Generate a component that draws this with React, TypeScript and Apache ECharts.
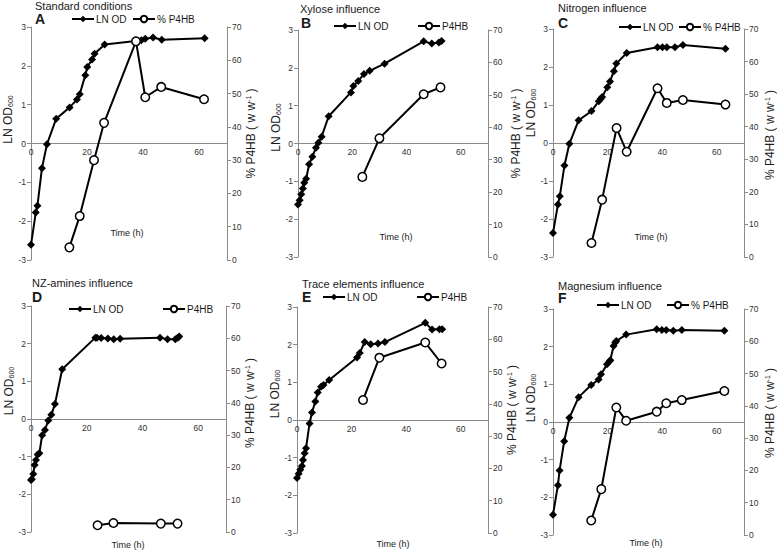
import React, { useEffect, useRef } from "react";
import * as echarts from "echarts";

// ---------- data ----------
const odTimeA = [0, 1.7, 2.3, 3.9, 5.7, 9.0, 13.8, 16.4, 17.4, 19.4, 20.1, 21.8, 22.7, 26.3, 37.4, 39.4, 40.8, 43.6, 46.7, 62.0];
const odA = [-2.61, -1.78, -1.6, -0.64, -0.02, 0.64, 0.93, 1.13, 1.27, 1.76, 1.97, 2.16, 2.31, 2.55, 2.64, 2.66, 2.7, 2.73, 2.67, 2.71];
const pTimeA = [13.7, 17.4, 22.5, 26.1, 37.5, 40.8, 46.5, 61.8];
const pA = [3.8, 13.2, 30.0, 41.2, 65.7, 48.9, 52.0, 48.3];

const odTimeB = [0, 0.6, 1.2, 1.8, 2.3, 3.0, 4.1, 5.3, 6.6, 7.5, 8.7, 11.3, 19.5, 20.4, 22.2, 24.3, 26.4, 31.9, 46.3, 49.3, 51.9, 52.9];
const odB = [-1.61, -1.5, -1.34, -1.19, -1.04, -0.93, -0.55, -0.35, -0.11, 0.02, 0.18, 0.72, 1.35, 1.52, 1.65, 1.84, 1.92, 2.11, 2.7, 2.64, 2.67, 2.71];
const pTimeB = [23.7, 30.0, 46.3, 52.5];
const pB = [24.7, 36.6, 50.2, 52.3];

const odTimeC = [0, 1.8, 2.5, 4.2, 6.0, 9.4, 14.1, 16.8, 17.4, 18.0, 19.9, 20.9, 22.3, 23.2, 27.0, 38.3, 40.1, 41.7, 44.7, 47.6, 63.2];
const odC = [-2.37, -1.62, -1.4, -0.59, -0.02, 0.6, 0.84, 1.1, 1.16, 1.21, 1.47, 1.62, 1.89, 2.09, 2.37, 2.52, 2.52, 2.52, 2.52, 2.58, 2.48];
const pTimeC = [14.1, 18.0, 23.3, 27.0, 38.3, 41.7, 47.6, 63.2];
const pC = [4.3, 17.6, 39.6, 32.3, 51.8, 47.3, 48.2, 46.8];

const odTimeD = [0, 0.3, 0.8, 1.3, 1.8, 2.4, 3.0, 4.0, 5.0, 6.2, 7.3, 8.6, 11.2, 23.1, 23.7, 25.2, 27.6, 29.7, 32.0, 46.3, 49.0, 51.8, 52.7, 53.2];
const odD = [-1.62, -1.6, -1.46, -1.22, -1.09, -0.94, -0.91, -0.43, -0.29, -0.04, 0.11, 0.4, 1.32, 2.16, 2.16, 2.15, 2.14, 2.12, 2.13, 2.16, 2.12, 2.12, 2.16, 2.19];
const pTimeD = [23.9, 29.6, 46.6, 52.6];
const pD = [2.1, 2.8, 2.6, 2.6];

const odTimeE = [0, 0.6, 1.2, 1.8, 2.2, 2.8, 3.3, 4.6, 5.5, 6.7, 7.6, 8.8, 9.7, 11.8, 22.0, 23.0, 24.8, 27.0, 29.7, 32.2, 47.0, 49.5, 52.2, 53.2];
const odE = [-1.54, -1.43, -1.32, -1.22, -1.06, -0.88, -0.75, -0.09, 0.2, 0.49, 0.73, 0.88, 0.93, 1.06, 1.66, 1.78, 2.07, 2.01, 2.03, 2.07, 2.58, 2.4, 2.41, 2.41];
const pTimeE = [24.2, 30.2, 47.0, 53.0];
const pE = [41.2, 54.3, 59.0, 52.5];

const odTimeF = [0, 1.8, 2.4, 4.1, 6.0, 9.4, 14.0, 16.7, 17.6, 19.8, 20.7, 21.0, 22.2, 22.8, 23.2, 26.8, 38.0, 39.9, 41.5, 44.1, 47.2, 62.8];
const odF = [-2.46, -1.68, -1.29, -0.51, 0.11, 0.66, 0.98, 1.13, 1.27, 1.53, 1.61, 1.64, 2.02, 2.11, 2.15, 2.32, 2.46, 2.44, 2.44, 2.42, 2.44, 2.42];
const pTimeF = [14.0, 17.7, 23.2, 26.8, 38.0, 41.5, 47.2, 62.8];
const pF = [4.5, 14.2, 39.5, 35.4, 38.2, 40.8, 41.8, 44.6];

const xTicks = { min: 0, max: 70, interval: 20 };
const odTicks = { min: -3, max: 3, interval: 1 };
const pTicks = { min: 0, max: 70, interval: 10 };

// ---------- layout ----------
const panels = [
  { id: "A", title: "Standard conditions", pName: "% P4HB", odT: odTimeA, od: odA, pT: pTimeA, p: pA,
    grid: { left: 31, top: 27, width: 196, height: 233 }, titleXY: [35, 0], letterXY: [35, 12],
    legOd: [71, 14], legP: [132, 14], timeXY: [127, 233], lGap: 17, lShift: 24, rGap: 18, rShift: 10 },
  { id: "B", title: "Xylose influence", pName: "P4HB", odT: odTimeB, od: odB, pT: pTimeB, p: pB,
    grid: { left: 298, top: 30, width: 190, height: 227 }, titleXY: [300, 3], letterXY: [301, 16],
    legOd: [333, 21], legP: [417, 21], timeXY: [396, 237], lGap: 15, lShift: 16, rGap: 22, rShift: 10 },
  { id: "C", title: "Nitrogen influence", pName: "% P4HB", odT: odTimeC, od: odC, pT: pTimeC, p: pC,
    grid: { left: 553, top: 29, width: 192, height: 228 }, titleXY: [558, 2], letterXY: [558, 16],
    legOd: [618, 22], legP: [678, 22], timeXY: [651, 237], lGap: 6, lShift: 30, rGap: 20, rShift: 8 },
  { id: "D", title: "NZ-amines influence", pName: "P4HB", odT: odTimeD, od: odD, pT: pTimeD, p: pD,
    grid: { left: 31, top: 306, width: 195, height: 226 }, titleXY: [32, 277], letterXY: [32, 290],
    legOd: [68, 304], legP: [162, 304], timeXY: [128, 545], lGap: 16, lShift: 28, rGap: 18, rShift: 16 },
  { id: "E", title: "Trace elements influence", pName: "P4HB", odT: odTimeE, od: odE, pT: pTimeE, p: pE,
    grid: { left: 297, top: 307, width: 191, height: 226 }, titleXY: [302, 278], letterXY: [302, 290],
    legOd: [322, 292], legP: [416, 292], timeXY: [393, 544], lGap: 9, lShift: 26, rGap: 18, rShift: 10 },
  { id: "F", title: "Magnesium influence", pName: "% P4HB", odT: odTimeF, od: odF, pT: pTimeF, p: pF,
    grid: { left: 553, top: 309, width: 192, height: 226 }, titleXY: [558, 280], letterXY: [558, 291],
    legOd: [596, 300], legP: [666, 300], timeXY: [646, 543], lGap: 6, lShift: 24, rGap: 20, rShift: 9 },
];

const FONT = "'Liberation Sans', Arial, Helvetica, sans-serif";
const AXIS = "#8a8a8a";
const TXT = "#1a1a1a";

const zip = (t: number[], v: number[]) => t.map((x, i) => [x, v[i]]);

function buildOption() {
  const legendCommon = {
    padding: 0,
    itemWidth: 22,
    itemHeight: 8,
    itemGap: 0,
    selectedMode: false,
    textStyle: { fontSize: 10, color: TXT, fontFamily: FONT, padding: [0, 0, 0, -3] },
  };
  const yLabel = { fontSize: 8.5, color: "#333", fontFamily: FONT, margin: 5 };
  return {
    animation: false,
    backgroundColor: "#fff",
    textStyle: { fontFamily: FONT },
    title: panels.flatMap((p) => [
      { text: p.title, left: p.titleXY[0], top: p.titleXY[1], padding: 0,
        textStyle: { fontSize: 11, fontWeight: "normal", color: TXT, fontFamily: FONT } },
      { text: p.id, left: p.letterXY[0], top: p.letterXY[1], padding: 0,
        textStyle: { fontSize: 14, fontWeight: "bold", color: TXT, fontFamily: FONT } },
    ]),
    legend: panels.flatMap((p) => [
      { ...legendCommon, data: ["LN OD"], left: p.legOd[0], top: p.legOd[1] },
      { ...legendCommon, data: [p.pName], left: p.legP[0], top: p.legP[1] },
    ]),
    grid: panels.map((p) => ({ ...p.grid, containLabel: false })),
    xAxis: panels.map((p, i) => ({
      type: "value",
      gridIndex: i,
      ...xTicks,
      position: "bottom",
      // LN OD axis is symmetric (-3..3), so its zero sits at the grid's middle
      offset: -p.grid.height / 2,
      axisLine: { onZero: false, lineStyle: { color: AXIS, width: 1 } },
      axisTick: { show: false },
      splitLine: { show: false },
      axisLabel: { fontSize: 8.5, color: "#333", fontFamily: FONT, margin: 4, showMaxLabel: false },
    })),
    yAxis: panels.flatMap((p, i) => [
      {
        type: "value",
        gridIndex: i,
        position: "left",
        ...odTicks,
        name: "LN OD{sub|600}",
        nameLocation: "middle",
        nameGap: p.lGap,
        nameRotate: 90,
        nameTextStyle: {
          fontSize: 12, color: TXT, fontFamily: FONT, padding: [0, 0, 0, 2 * p.lShift],
          rich: { sub: { fontSize: 7, color: TXT, fontFamily: FONT, verticalAlign: "bottom" } },
        },
        axisLine: { show: true, onZero: false, lineStyle: { color: AXIS, width: 1 } },
        axisTick: { show: true, length: 4, lineStyle: { color: AXIS } },
        splitLine: { show: false },
        axisLabel: yLabel,
      },
      {
        type: "value",
        gridIndex: i,
        position: "right",
        ...pTicks,
        name: "% P4HB ( w w{sup|-1} )",
        nameLocation: "middle",
        nameGap: p.rGap,
        nameRotate: 90,
        nameTextStyle: {
          fontSize: 12, color: TXT, fontFamily: FONT, padding: [0, 0, 0, 2 * p.rShift],
          rich: { sup: { fontSize: 7, color: TXT, fontFamily: FONT, verticalAlign: "top" } },
        },
        axisLine: { show: true, onZero: false, lineStyle: { color: AXIS, width: 1 } },
        axisTick: { show: true, length: 4, lineStyle: { color: AXIS } },
        splitLine: { show: false },
        axisLabel: yLabel,
      },
    ]),
    series: panels.flatMap((p, i) => [
      {
        type: "line",
        name: "LN OD",
        xAxisIndex: i,
        yAxisIndex: 2 * i,
        data: zip(p.odT, p.od),
        symbol: "diamond",
        symbolSize: 8,
        itemStyle: { color: "#000" },
        lineStyle: { color: "#000", width: 2 },
        z: 2,
      },
      {
        type: "line",
        name: p.pName,
        xAxisIndex: i,
        yAxisIndex: 2 * i + 1,
        data: zip(p.pT, p.p),
        symbol: "circle",
        symbolSize: 8.5,
        itemStyle: { color: "#fff", borderColor: "#000", borderWidth: 1.5 },
        lineStyle: { color: "#000", width: 2 },
        z: 3,
      },
    ]),
    graphic: panels.map((p) => ({
      type: "text",
      x: p.timeXY[0],
      y: p.timeXY[1],
      style: { text: "Time (h)", fontSize: 9, fill: TXT, fontFamily: FONT, textAlign: "center", textVerticalAlign: "middle" },
    })),
  };
}

export default function App() {
  const ref = useRef<HTMLDivElement>(null);
  useEffect(() => {
    if (!ref.current) return;
    const chart = echarts.init(ref.current, undefined, { renderer: "svg" });
    chart.setOption(buildOption() as any);
    return () => chart.dispose();
  }, []);
  return (
    <div
      ref={ref}
      style={{ position: "absolute", left: 0, top: 0, width: 777, height: 550, background: "#fff" }}
    />
  );
}
